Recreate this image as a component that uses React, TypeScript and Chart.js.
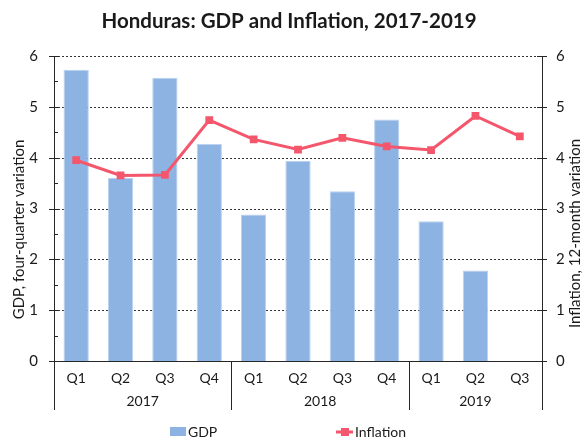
import React, { useEffect, useRef } from "react";
import { Chart, registerables } from "chart.js";

Chart.register(...registerables);

const quarters = ["Q1", "Q2", "Q3", "Q4", "Q1", "Q2", "Q3", "Q4", "Q1", "Q2", "Q3"];
const years = ["2017", "2018", "2019"];
const yearSpans = [4, 4, 3];
const gdp = [5.73, 3.6, 5.57, 4.27, 2.88, 3.94, 3.34, 4.75, 2.75, 1.78, null];
const inflation = [3.95, 3.65, 3.66, 4.74, 4.36, 4.16, 4.39, 4.22, 4.15, 4.82, 4.42];
const yTicks = [0, 1, 2, 3, 4, 5, 6];

const FONT = "Lato, 'Open Sans', sans-serif";
const TEXT = "#1a1a1a";
const AXIS = "#262626";
const BAR = "#8DB3E2";
const LINE = "#F4566C";

const gridPlugin = {
  id: "dashedGrid",
  beforeDatasetsDraw(chart: any) {
    const { ctx, chartArea } = chart;
    const y = chart.scales.y;
    ctx.save();
    ctx.strokeStyle = "#333";
    ctx.lineWidth = 1;
    ctx.setLineDash([2, 2]);
    ctx.beginPath();
    yTicks.forEach((v) => {
      if (v === 0) return;
      const py = Math.round(y.getPixelForValue(v)) + 0.5;
      ctx.moveTo(chartArea.left, py);
      ctx.lineTo(chartArea.right, py);
    });
    ctx.stroke();
    ctx.restore();
  },
};

const decorations = {
  id: "decorations",
  afterDraw(chart: any) {
    const { ctx, chartArea } = chart;
    const y = chart.scales.y;
    const { left, right, top, bottom } = chartArea;
    const extBottom = 410;
    ctx.save();
    // title
    ctx.fillStyle = TEXT;
    ctx.font = `bold 20.5px ${FONT}`;
    ctx.textAlign = "center";
    ctx.textBaseline = "middle";
    ctx.fillText("Honduras: GDP and Inflation, 2017-2019", 289, 21);

    // axis titles
    ctx.font = `15px ${FONT}`;
    ctx.save();
    ctx.translate(19, (top + bottom) / 2 + 21);
    ctx.rotate(-Math.PI / 2);
    ctx.fillText("GDP, four-quarter variation", 0, 0);
    ctx.restore();
    ctx.save();
    ctx.translate(575, (top + bottom) / 2 + 25);
    ctx.rotate(-Math.PI / 2);
    ctx.fillText("Inflation, 12-month variation", 0, 0);
    ctx.restore();

    // tick marks
    ctx.strokeStyle = AXIS;
    ctx.lineWidth = 1;
    ctx.beginPath();
    yTicks.forEach((v) => {
      const py = Math.round(y.getPixelForValue(v)) + 0.5;
      ctx.moveTo(left - 5, py);
      ctx.lineTo(left + 5, py);
      ctx.moveTo(right - 5, py);
      ctx.lineTo(right + 5, py);
      if (v < 6) {
        const pm = Math.round(y.getPixelForValue(v + 0.5)) + 0.5;
        ctx.moveTo(left, pm);
        ctx.lineTo(left + 4, pm);
      }
    });
    const lx = Math.round(left) + 0.5;
    const rx = Math.round(right) + 0.5;
    ctx.moveTo(lx, bottom);
    ctx.lineTo(lx, extBottom);
    ctx.moveTo(rx, bottom);
    ctx.lineTo(rx, extBottom);
    let idx = 0;
    const step = (right - left) / quarters.length;
    years.forEach((yr, i) => {
      const start = idx;
      idx += yearSpans[i];
      const sx = left + step * start;
      const ex = left + step * idx;
      const bx = Math.round(ex) + 0.5;
      ctx.moveTo(bx, bottom);
      ctx.lineTo(bx, extBottom);
      ctx.fillStyle = TEXT;
      ctx.font = `14px ${FONT}`;
      ctx.textAlign = "center";
      ctx.fillText(yr, (sx + ex) / 2, 401);
    });
    ctx.stroke();

    // legend
    ctx.fillStyle = BAR;
    ctx.fillRect(170, 427, 16, 9);
    ctx.fillStyle = TEXT;
    ctx.font = `14px ${FONT}`;
    ctx.textAlign = "left";
    ctx.fillText("GDP", 188, 432);
    ctx.strokeStyle = LINE;
    ctx.lineWidth = 3;
    ctx.beginPath();
    ctx.moveTo(336, 432);
    ctx.lineTo(353, 432);
    ctx.stroke();
    ctx.fillStyle = LINE;
    ctx.fillRect(341, 428, 8, 8);
    ctx.fillStyle = TEXT;
    ctx.fillText("Inflation", 355, 432);
    ctx.restore();
  },
};

export default function App() {
  const ref = useRef<HTMLCanvasElement | null>(null);
  useEffect(() => {
    if (!ref.current) return;
    const chart = new Chart(ref.current, {
      type: "bar",
      data: {
        labels: quarters,
        datasets: [
          {
            type: "line",
            label: "Inflation",
            data: inflation,
            yAxisID: "y1",
            borderColor: LINE,
            backgroundColor: LINE,
            borderWidth: 3,
            pointStyle: "rect",
            pointRadius: 5.5,
            pointBorderWidth: 0,
            tension: 0,
            order: 0,
          } as any,
          {
            type: "bar",
            label: "GDP",
            data: gdp,
            yAxisID: "y",
            backgroundColor: BAR,
            borderColor: "#BBD2EE",
            borderWidth: { top: 1, left: 1, right: 1, bottom: 0 },
            barPercentage: 0.57,
            categoryPercentage: 1,
            order: 1,
          } as any,
        ],
      },
      options: {
        animation: false,
        responsive: true,
        maintainAspectRatio: false,
        layout: { padding: { top: 56, left: 0, right: 0, bottom: 0 } },
        plugins: {
          legend: { display: false },
          title: { display: false },
          tooltip: { enabled: false },
        },
        scales: {
          x: {
            type: "category",
            offset: true,
            grid: { display: false, drawTicks: false },
            border: { display: true, color: AXIS, width: 1 },
            ticks: { color: TEXT, font: { family: FONT, size: 14 }, padding: 9, maxRotation: 0 },
            afterFit: (s: any) => {
              s.height = 78;
            },
          },
          y: {
            position: "left",
            min: 0,
            max: 6,
            ticks: {
              stepSize: 1,
              color: TEXT,
              font: { family: FONT, size: 15 },
              padding: 16,
            },
            grid: { display: false, drawTicks: false },
            border: { display: true, color: AXIS, width: 1 },
            afterFit: (s: any) => {
              s.width = 54;
            },
          },
          y1: {
            position: "right",
            min: 0,
            max: 6,
            ticks: {
              stepSize: 1,
              color: TEXT,
              font: { family: FONT, size: 15 },
              padding: 14,
            },
            grid: { display: false, drawTicks: false },
            border: { display: true, color: AXIS, width: 1 },
            afterFit: (s: any) => {
              s.width = 41;
            },
          },
        },
      },
      plugins: [gridPlugin, decorations],
    });
    return () => chart.destroy();
  }, []);
  return (
    <div style={{ position: "fixed", left: 0, top: 0, width: 583, height: 439, background: "#fff" }}>
      <canvas ref={ref} />
    </div>
  );
}
